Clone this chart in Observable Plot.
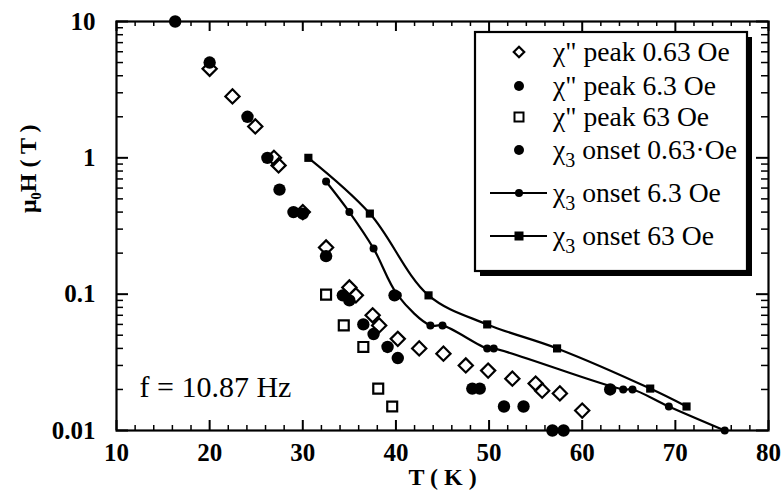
<!DOCTYPE html>
<html><head><meta charset="utf-8">
<script src="https://cdn.jsdelivr.net/npm/d3@7"></script>
<script src="https://cdn.jsdelivr.net/npm/@observablehq/plot@0.6"></script>
<style>
body{margin:0;background:#fff;font-family:"Liberation Serif",serif;}
#wrap{position:relative;width:782px;height:493px;overflow:hidden;}
#wrap svg text{font-family:"Liberation Serif",serif !important;}
#wrap svg.overlay{position:absolute;left:0;top:0;pointer-events:none;}
</style></head><body><div id="wrap"></div>
<script>
// ---- data: [T (K), mu0H (T)] ----
const peak063 = [[20,4.5],[22.45,2.82],[24.9,1.70],[26.9,1.0],[27.4,0.88],[30.0,0.40],[32.5,0.22],[35.0,0.112],[35.7,0.098],[37.5,0.070],[38.2,0.059],[40.2,0.047],[42.5,0.040],[45.1,0.0366],[47.5,0.030],[49.9,0.0275],[52.5,0.024],[55.0,0.0221],[55.7,0.0196],[57.6,0.0187],[60.0,0.014]];
const peak63 = [[32.5,0.0993],[34.4,0.059],[36.5,0.041],[38.1,0.0203],[39.6,0.0150]];
const peak6_3 = [[24.06,2.0],[27.5,0.585],[30.0,0.39],[35.0,0.09],[37.6,0.051],[39.1,0.041],[40.2,0.034],[48.2,0.0203],[51.6,0.015],[53.7,0.015],[56.8,0.01],[58.0,0.01]];
const onset063 = [[16.3,10],[20,5.0],[26.2,1.0],[29.0,0.40],[32.5,0.19],[34.3,0.098],[36.5,0.060],[39.85,0.098],[49.0,0.0203],[63.0,0.020]];
const onset6_3 = [[32.5,0.67],[35.0,0.40],[37.6,0.216],[40.2,0.098],[43.7,0.059],[45.0,0.059],[49.8,0.040],[50.5,0.040],[64.4,0.020],[65.4,0.020],[69.3,0.015],[75.3,0.010]];
const onset63 = [[30.6,1.0],[37.2,0.39],[43.5,0.098],[49.8,0.060],[57.3,0.040],[67.3,0.0203],[71.2,0.015]];

const xMajor = [10,20,30,40,50,60,70,80];
const xMinor = d3.range(12,80,2).filter(v => v % 10 !== 0);
const yMajor = [0.01,0.1,1,10];
const yMinor = [0.01,0.1,1].flatMap(b => [2,3,4,5,6,7,8,9].map(k => +(k*b).toPrecision(2)));

const legendLabels = ['χ" peak 0.63 Oe','χ" peak 6.3 Oe','χ" peak 63 Oe','onset 0.63·Oe','onset 6.3 Oe','onset 63 Oe'];
const annotation = "f = 10.87 Hz";
const xLabel = "T ( K )";
const yLabel = "μ₀H ( T )";

// ---- layout ----
const W = 782, H = 493, mL = 116, mR = 14, mT = 21, mB = 63;
const innerH = H - mT - mB;
const font = "Liberation Serif";
const px = d => d[0], py = d => d[1];

const chart = Plot.plot({
  width: W, height: H,
  marginLeft: mL, marginRight: mR, marginTop: mT, marginBottom: mB,
  style: {fontFamily: font, background: "transparent", color: "#000"},
  x: {domain: [10, 80]},
  y: {type: "log", domain: [0.01, 10]},
  marks: [
    Plot.ruleX(xMajor, {x: d => d, insetTop: innerH - 10, stroke: "#000", strokeWidth: 2}),
    Plot.ruleX(xMinor, {x: d => d, insetTop: innerH - 5, stroke: "#000", strokeWidth: 1.5}),
    Plot.ruleX(xMajor, {x: d => d, insetBottom: innerH - 10, stroke: "#000", strokeWidth: 2}),
    Plot.ruleX(xMinor, {x: d => d, insetBottom: innerH - 5, stroke: "#000", strokeWidth: 1.5}),
    Plot.ruleY(yMajor, {y: d => d, insetRight: (W - mL - mR) - 12, stroke: "#000", strokeWidth: 2}),
    Plot.ruleY(yMinor, {y: d => d, insetRight: (W - mL - mR) - 7, stroke: "#000", strokeWidth: 1.5}),
    Plot.ruleY(yMajor, {y: d => d, insetLeft: (W - mL - mR) - 12, stroke: "#000", strokeWidth: 2}),
    Plot.ruleY(yMinor, {y: d => d, insetLeft: (W - mL - mR) - 7, stroke: "#000", strokeWidth: 1.5}),
    Plot.frame({stroke: "#000", strokeWidth: 2.2}),
    Plot.axisX({ticks: xMajor, tickSize: 0, tickPadding: 13, fontSize: 25, fontWeight: "bold", label: null}),
    Plot.axisY({ticks: yMajor, tickSize: 0, tickPadding: 21, fontSize: 25, fontWeight: "bold", label: null, tickFormat: d => String(d)}),
    Plot.text([xLabel], {frameAnchor: "bottom", dy: 54, fontSize: 24, fontWeight: "bold", fill: "#000"}),
    Plot.text([yLabel], {frameAnchor: "left", dx: -88, dy: -13, rotate: -90, fontSize: 24, fontWeight: "bold", fill: "#000"}),
    Plot.text([annotation], {frameAnchor: "bottom-left", textAnchor: "start", dx: 23, dy: -34, fontSize: 30, fill: "#000"}),
    Plot.line(onset63, {x: px, y: py, curve: "catmull-rom", stroke: "#000", strokeWidth: 2.2}),
    Plot.line(onset6_3, {x: px, y: py, curve: "catmull-rom", stroke: "#000", strokeWidth: 2.2}),
    Plot.dot(onset63, {x: px, y: py, symbol: "square", r: 4.6, fill: "#000", stroke: "none"}),
    Plot.dot(onset6_3, {x: px, y: py, r: 4, fill: "#000", stroke: "none"}),
    Plot.dot(peak63, {x: px, y: py, symbol: "square", r: 5.6, fill: "none", stroke: "#000", strokeWidth: 2.2}),
    Plot.dot(peak6_3, {x: px, y: py, r: 6.2, fill: "#000", stroke: "none"}),
    Plot.dot(onset063, {x: px, y: py, r: 6.2, fill: "#000", stroke: "none"}),
    Plot.dot(peak063, {x: px, y: py, symbol: "diamond2", r: 6.4, fill: "none", stroke: "#000", strokeWidth: 2.2})
  ]
});
const wrap = document.getElementById("wrap");
wrap.appendChild(chart);

// ---- legend (inside the plot area, top-right) ----
const lg = d3.select(wrap).append("svg").attr("class", "overlay").attr("width", W).attr("height", H);
const bx = 475, by = 32, bw = 272, bh = 239, sh = 5;
lg.append("rect").attr("x", bx + sh).attr("y", by + sh).attr("width", bw).attr("height", bh).attr("fill", "#000");
lg.append("rect").attr("x", bx).attr("y", by).attr("width", bw).attr("height", bh).attr("fill", "#fff").attr("stroke", "#000").attr("stroke-width", 2.2);
const rows = [52, 86, 117, 150, 193, 236];
const symX = 519, txtX = 553;
const kinds = ["diamond", "circle", "square", "circle", "line-circle", "line-square"];
legendLabels.forEach((lab, i) => {
  const y = rows[i], k = kinds[i];
  const g = lg.append("g");
  if (k.startsWith("line")) {
    g.append("line").attr("x1", 490).attr("x2", 547).attr("y1", y).attr("y2", y).attr("stroke", "#000").attr("stroke-width", 2);
  }
  if (k === "diamond") g.append("path").attr("d", d3.symbol(d3.symbolDiamond2, 70)()).attr("transform", `translate(${symX},${y})`).attr("fill", "none").attr("stroke", "#000").attr("stroke-width", 2.2);
  if (k === "circle") g.append("circle").attr("cx", symX).attr("cy", y).attr("r", 5).attr("fill", "#000");
  if (k === "square") g.append("rect").attr("x", symX - 4.5).attr("y", y - 4.5).attr("width", 9).attr("height", 9).attr("fill", "none").attr("stroke", "#000").attr("stroke-width", 2);
  if (k === "line-circle") g.append("circle").attr("cx", symX).attr("cy", y).attr("r", 4).attr("fill", "#000");
  if (k === "line-square") g.append("rect").attr("x", symX - 4.5).attr("y", y - 4.5).attr("width", 9).attr("height", 9).attr("fill", "#000");
  const t = g.append("text").attr("x", txtX).attr("y", y + 9).attr("font-size", 27.6).attr("fill", "#000");
  if (i >= 3) {
    t.append("tspan").text("χ");
    t.append("tspan").attr("dy", 8).attr("font-size", 20).text("3");
    t.append("tspan").attr("dy", -8).text(" " + lab);
  } else {
    t.text(lab);
  }
});
</script>
</body></html>
